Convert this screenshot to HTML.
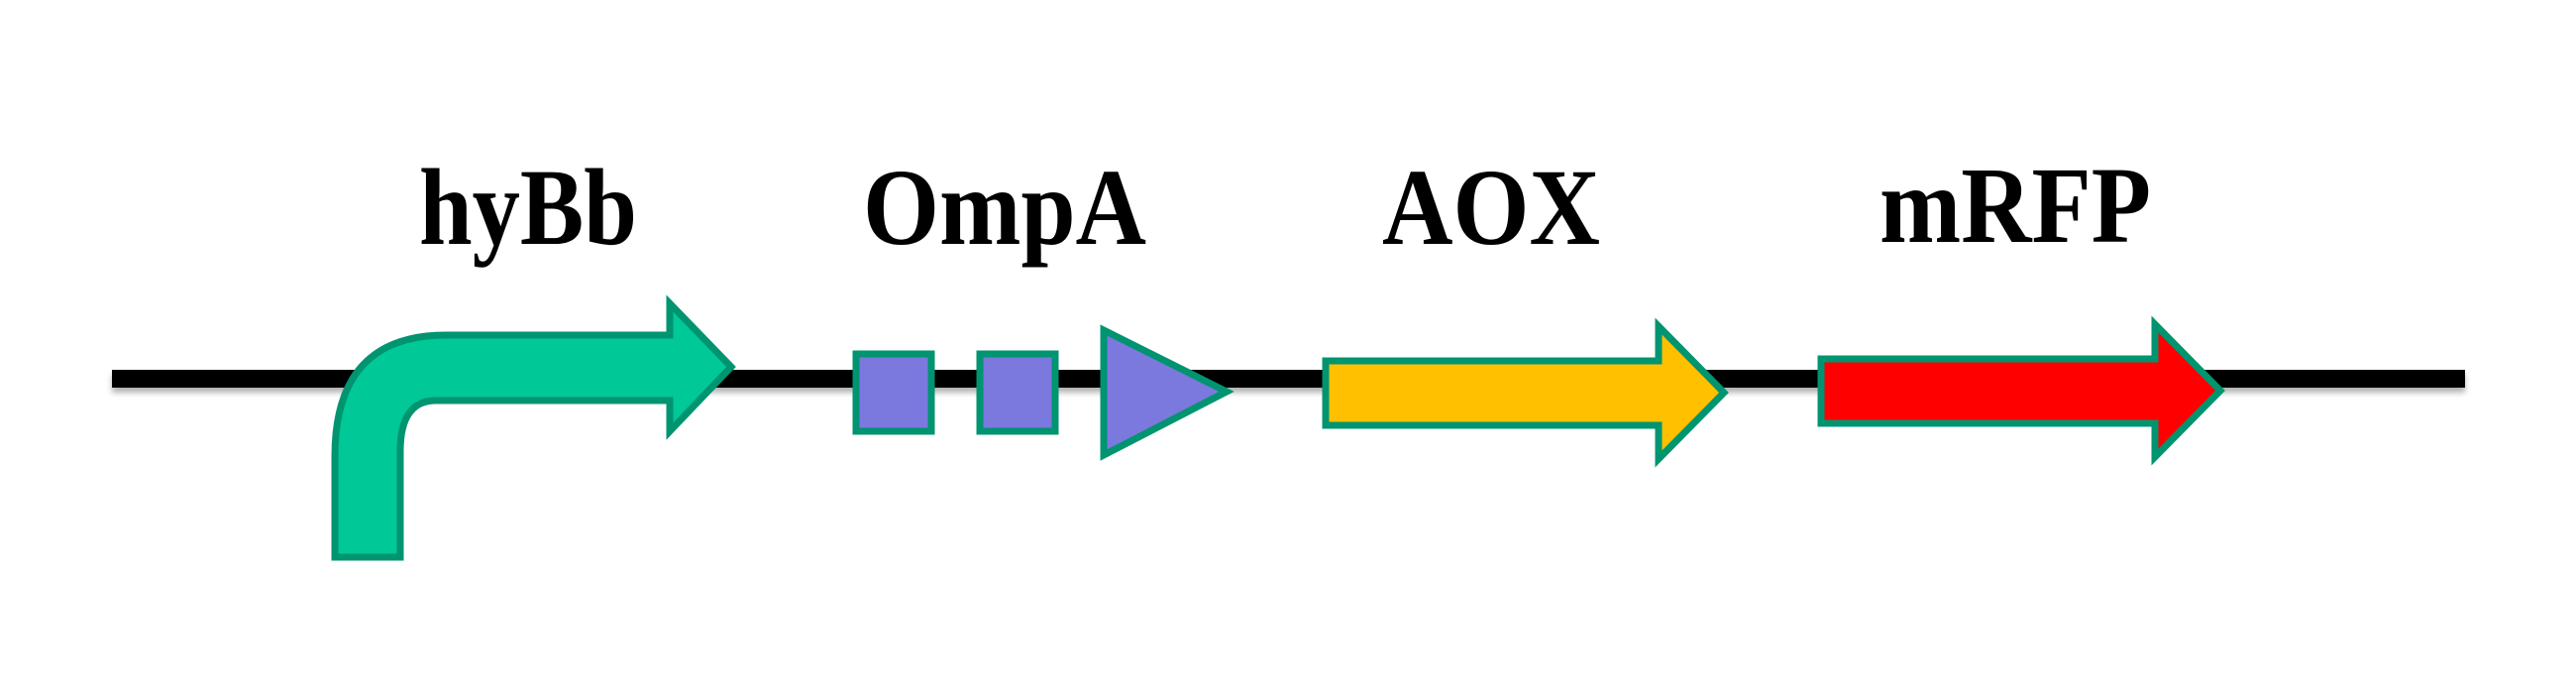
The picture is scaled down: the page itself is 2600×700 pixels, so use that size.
<!DOCTYPE html>
<html><head><meta charset="utf-8"><style>
html,body{margin:0;padding:0;background:#fff;width:2600px;height:700px;overflow:hidden}
</style></head><body>
<svg width="2600" height="700" viewBox="0 0 2600 700" xmlns="http://www.w3.org/2000/svg">
<defs><filter id="sh" x="-5%" y="-100%" width="110%" height="400%"><feDropShadow dx="0" dy="5" stdDeviation="3" flood-color="#000" flood-opacity="0.3"/></filter></defs>
<rect x="113" y="373" width="2375" height="18" fill="#000" filter="url(#sh)"/>
<g stroke="#009470" stroke-width="7" stroke-linejoin="miter">
<path d="M338,562 L338,460 Q338,338 450,338 L676,338 L676,306 L738,370 L676,435 L676,404 L440,404 Q404,404 404,455 L404,562 Z" fill="#00C896"/>
<rect x="864" y="357" width="76" height="78" fill="#7B78DE"/>
<rect x="989" y="357" width="76" height="78" fill="#7B78DE"/>
<path d="M1114,333 L1238,395 L1114,459 Z" fill="#7B78DE"/>
<path d="M1338,364 L1674,364 L1674,329 L1740,396 L1674,463 L1674,429 L1338,429 Z" fill="#FFC000"/>
<path d="M1838,362 L2175,362 L2175,327 L2241,394 L2175,461 L2175,427 L1838,427 Z" fill="#FF0000"/>
</g>
<g font-family="Liberation Serif, serif" font-weight="bold" font-size="110" fill="#000">
<text x="423" y="246" textLength="220" lengthAdjust="spacingAndGlyphs">hyBb</text>
<text x="871" y="246" textLength="286" lengthAdjust="spacingAndGlyphs">OmpA</text>
<text x="1395" y="246" textLength="220" lengthAdjust="spacingAndGlyphs">AOX</text>
<text x="1897" y="244" textLength="274" lengthAdjust="spacingAndGlyphs">mRFP</text>
</g>
</svg>
</body></html>
